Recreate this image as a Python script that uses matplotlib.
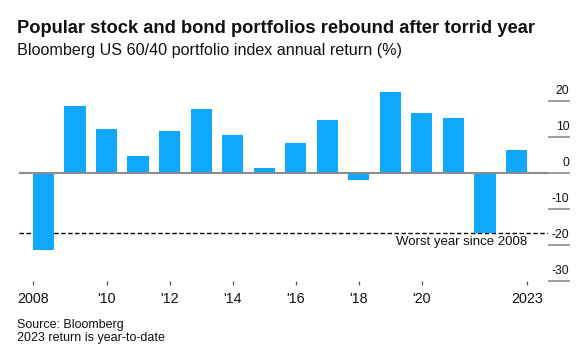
import matplotlib
matplotlib.use('Agg')
import matplotlib.pyplot as plt
import matplotlib.transforms as mtransforms

# --- dane ---
years = [2008, 2009, 2010, 2011, 2012, 2013, 2014, 2015,
         2016, 2017, 2018, 2019, 2020, 2021, 2022, 2023]
returns = [-21.6, 18.6, 12.1, 4.7, 11.6, 17.8, 10.6, 1.3,
           8.3, 14.6, -2.1, 22.3, 16.6, 15.3, -16.7, 6.3]
worst_value = -16.7  # 2022
x_tick_years = [2008, 2010, 2012, 2014, 2016, 2018, 2020, 2023]
x_tick_labels = ['2008', "'10", "'12", "'14", "'16", "'18", "'20", '2023']
y_ticks = [20, 10, 0, -10, -20, -30]

BAR_COLOR = '#10A8FF'
BAR_WIDTH = 0.675
FONT = 'Liberation Sans'

plt.rcParams['font.family'] = FONT

fig = plt.figure(figsize=(5.86, 3.57), dpi=100)
ax = fig.add_axes([0.0329, 0.2137, 0.9021, 0.5546])

ax.bar(years, returns, width=BAR_WIDTH, color=BAR_COLOR, zorder=2)
ax.axhline(0, color='#8c8c8c', linewidth=1.5, zorder=3)
ax.axhline(worst_value, color='black', linewidth=1.0,
           dashes=(3.2, 1.8), zorder=1)

ax.set_xlim(2007.23, 2024.0)
ax.set_ylim(-30, 25)

for s in ax.spines.values():
    s.set_visible(False)

# os X: skrajne ticki na krawedziach slupkow
xt = list(x_tick_years)
xt[0] = years[0] - BAR_WIDTH / 2
xt[-1] = years[-1] + BAR_WIDTH / 2
ax.set_xticks(xt)
ax.set_xticklabels(x_tick_labels)
ax.tick_params(axis='x', length=3.2, width=0.9, color='#555555',
               labelsize=10.3, pad=5, labelcolor='#111111')

# os Y: kreski po prawej, etykiety nad kreskami
ax.yaxis.tick_right()
ax.set_yticks(y_ticks)
ax.tick_params(axis='y', length=15.5, width=1.2, color='#8c8c8c',
               labelright=False)
for tick, v in zip(ax.yaxis.get_major_ticks(), y_ticks):
    if v == -30:
        tick.tick2line.set_color('#111111')
    elif v == 0:
        tick.tick2line.set_color('#555555')

off = mtransforms.ScaledTranslation(15.5 / 72, 2.5 / 72, fig.dpi_scale_trans)
trans = mtransforms.blended_transform_factory(ax.transAxes, ax.transData) + off
for v in y_ticks:
    ax.text(1, v, str(v), transform=trans, ha='right', va='bottom',
            fontsize=8.8, color='#111111')

ax.annotate('Worst year since 2008', xy=(years[-1] + BAR_WIDTH / 2, worst_value),
            xytext=(0, -2.5), textcoords='offset points',
            ha='right', va='top', fontsize=9.55, color='#111111')

fig.text(0.029, 1 - 32.7 / 357, 'Popular stock and bond portfolios rebound after torrid year',
         fontsize=13.2, fontweight='bold', va='baseline', color='#111111')
fig.text(0.029, 1 - 55.5 / 357, 'Bloomberg US 60/40 portfolio index annual return (%)',
         fontsize=11.6, va='baseline', color='#111111')
fig.text(0.029, 1 - 328.3 / 357, 'Source: Bloomberg', fontsize=9.0,
         va='baseline', color='#111111')
fig.text(0.029, 1 - 340.5 / 357, '2023 return is year-to-date', fontsize=9.0,
         va='baseline', color='#111111')

fig.savefig('out.png', dpi=100)
